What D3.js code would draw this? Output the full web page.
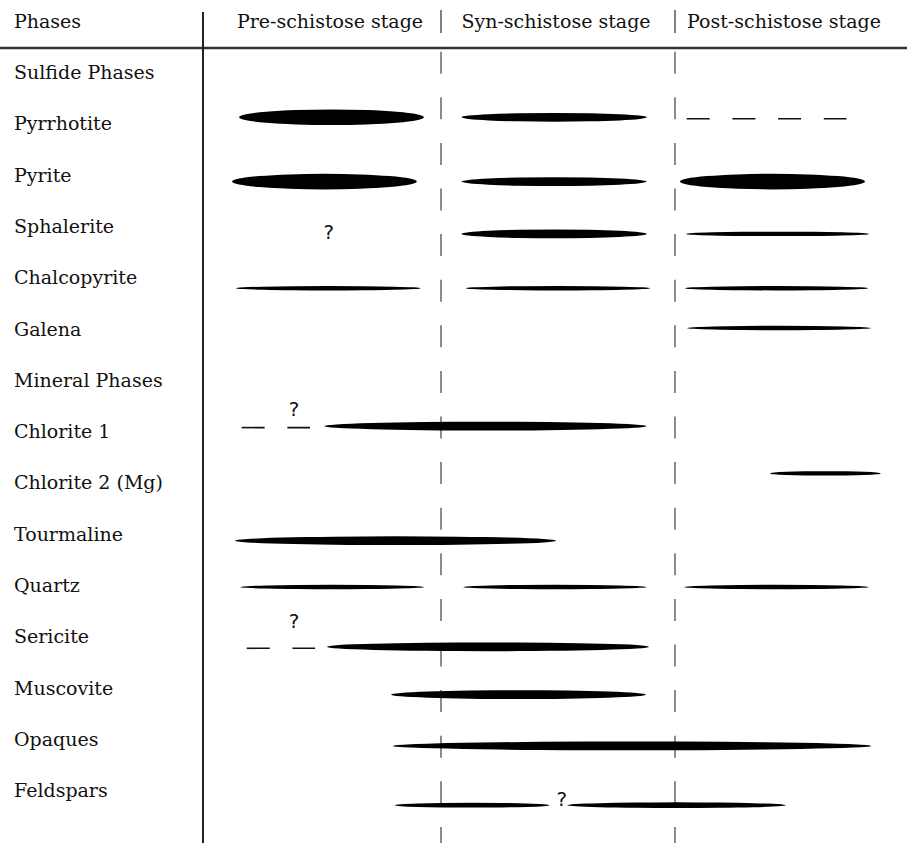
<!DOCTYPE html>
<html><head><meta charset="utf-8">
<script src="https://cdn.jsdelivr.net/npm/d3@7"></script>
<style>
body{margin:0;background:#fff}
svg{display:block}
text{font-family:"DejaVu Serif",serif;fill:#111}
</style>
</head><body>
<script>
// ---------- DATA ----------
const headerLabel = "Phases";
const stages = ["Pre-schistose stage", "Syn-schistose stage", "Post-schistose stage"];
const phases = ["Sulfide Phases","Pyrrhotite","Pyrite","Sphalerite","Chalcopyrite","Galena",
  "Mineral Phases","Chlorite 1","Chlorite 2 (Mg)","Tourmaline","Quartz","Sericite",
  "Muscovite","Opaques","Feldspars"];
// ranges in stage units (0 = start of pre-schistose, 3 = end of post-schistose); abundance 1..3
const sulfideBars = [
  {phase:"Pyrrhotite", from:0.137, to:0.927, abundance:3},
  {phase:"Pyrrhotite", from:1.088, to:1.879, abundance:2},
  {phase:"Pyrite", from:0.107, to:0.897, abundance:3},
  {phase:"Pyrite", from:1.088, to:1.879, abundance:2},
  {phase:"Pyrite", from:2.021, to:2.812, abundance:3},
  {phase:"Sphalerite", from:1.088, to:1.879, abundance:2},
  {phase:"Sphalerite", from:2.047, to:2.829, abundance:1},
  {phase:"Chalcopyrite", from:0.124, to:0.913, abundance:1},
  {phase:"Chalcopyrite", from:1.106, to:1.893, abundance:1},
  {phase:"Chalcopyrite", from:2.043, to:2.825, abundance:1},
  {phase:"Galena", from:2.051, to:2.838, abundance:1}
];
const mineralBars = [
  {phase:"Chlorite 1", from:0.501, to:1.879, abundance:2},
  {phase:"Chlorite 2 (Mg)", from:2.406, to:2.879, abundance:1},
  {phase:"Tourmaline", from:0.120, to:1.491, abundance:2},
  {phase:"Quartz", from:0.141, to:0.929, abundance:1},
  {phase:"Quartz", from:1.094, to:1.880, abundance:1},
  {phase:"Quartz", from:2.038, to:2.829, abundance:1},
  {phase:"Sericite", from:0.512, to:1.889, abundance:2},
  {phase:"Muscovite", from:0.786, to:1.876, abundance:2},
  {phase:"Opaques", from:0.795, to:2.838, abundance:2},
  {phase:"Feldspars", from:0.803, to:1.463, abundance:1.1},
  {phase:"Feldspars", from:1.540, to:2.474, abundance:1.3}
];
const uncertainRanges = [
  {phase:"Pyrrhotite", from:2.050, to:2.733},
  {phase:"Chlorite 1", from:0.148, to:0.440},
  {phase:"Sericite", from:0.170, to:0.462}
];
const queries = [
  {phase:"Sphalerite", at:0.521},
  {phase:"Chlorite 1", at:0.372},
  {phase:"Sericite", at:0.372},
  {phase:"Feldspars", at:1.516}
];

// ---------- LAYOUT (not data) ----------
const W = 907, H = 843;
const headerY = 48, colLine = 203;
const barShift = {"Pyrrhotite":-13,"Pyrite":0,"Sphalerite":1,"Chalcopyrite":4,"Galena":-7.5,
  "Chlorite 1":-12,"Chlorite 2 (Mg)":-16,"Tourmaline":0,"Quartz":-5,"Sericite":3.5,
  "Muscovite":0,"Opaques":0,"Feldspars":8};
const queryShift = {"Sphalerite":6,"Chlorite 1":-22,"Sericite":-15,"Feldspars":9};

const x = d3.scaleLinear().domain([0,3]).range([207, 909]);
const y = d3.scalePoint().domain(phases).range([79, 797.2]);
const ry = d3.scaleLinear().domain([1,2,3]).range([2.2,4.4,7.8]);

const svg = d3.select("body").append("svg").attr("width",W).attr("height",H);

// header
svg.append("text").attr("x",14).attr("y",28).attr("font-size",19).text(headerLabel);
svg.selectAll(".stage").data(stages).join("text")
  .attr("class","stage")
  .attr("x",(d,i)=>x(i+0.5)+[6,-2,-8][i])
  .attr("y",28).attr("font-size",19).attr("text-anchor","middle").text(d=>d);
svg.selectAll(".hsep").data([1,2]).join("line")
  .attr("x1",d=>x(d)).attr("x2",d=>x(d)).attr("y1",10).attr("y2",33)
  .attr("stroke","#555").attr("stroke-width",1.5);

// frame lines
svg.append("line").attr("x1",0).attr("x2",W).attr("y1",headerY).attr("y2",headerY)
  .attr("stroke","#333").attr("stroke-width",2.5);
svg.append("line").attr("x1",colLine).attr("x2",colLine).attr("y1",12).attr("y2",H)
  .attr("stroke","#222").attr("stroke-width",2);
svg.selectAll(".vdash").data([1,2]).join("line")
  .attr("x1",d=>x(d)).attr("x2",d=>x(d)).attr("y1",51.7).attr("y2",H)
  .attr("stroke","#666").attr("stroke-width",1.5).attr("stroke-dasharray","22,23.6");

// phase labels
svg.selectAll(".lab").data(phases).join("text")
  .attr("x",14).attr("y",d=>y(d)).attr("font-size",19).text(d=>d);

// bars (spindles)
const bars = sulfideBars.concat(mineralBars);
svg.selectAll(".bar").data(bars).join("ellipse")
  .attr("cx",d=>(x(d.from)+x(d.to))/2)
  .attr("cy",d=>y(d.phase)+barShift[d.phase])
  .attr("rx",d=>(x(d.to)-x(d.from))/2)
  .attr("ry",d=>ry(d.abundance))
  .attr("fill","#000");

// uncertain (dashed) ranges
svg.selectAll(".unc").data(uncertainRanges).join("line")
  .attr("x1",d=>x(d.from)).attr("x2",d=>x(d.to))
  .attr("y1",d=>y(d.phase)+barShift[d.phase]+1.5).attr("y2",d=>y(d.phase)+barShift[d.phase]+1.5)
  .attr("stroke","#111").attr("stroke-width",1.6).attr("stroke-dasharray","23,22.7");

// question marks
svg.selectAll(".q").data(queries).join("text")
  .attr("x",d=>x(d.at)).attr("y",d=>y(d.phase)+queryShift[d.phase])
  .attr("font-size",20).attr("text-anchor","middle")
  .style("font-family","'DejaVu Sans',sans-serif").text("?");
</script>
</body></html>
